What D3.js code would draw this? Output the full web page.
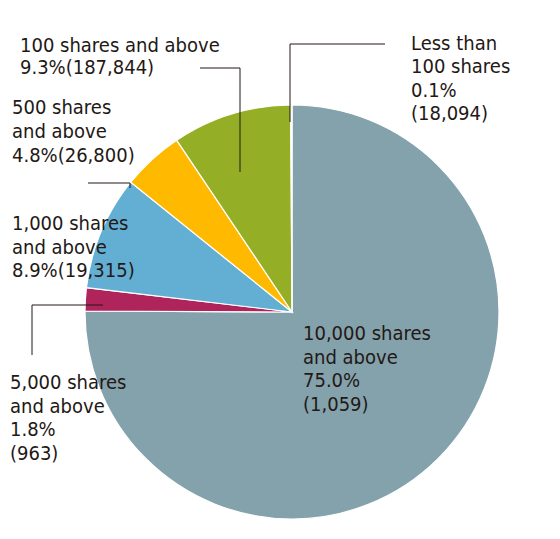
<!DOCTYPE html>
<html><head><meta charset="utf-8">
<script src="https://cdn.jsdelivr.net/npm/d3@7"></script>
<style>body{margin:0;background:#fff}text{font-family:"DejaVu Sans Condensed","DejaVu Sans",sans-serif;font-size:20px;fill:#231815}</style>
</head><body><svg id="c" width="560" height="539"></svg>
<script>
const categories=["10,000 shares and above","5,000 shares and above","1,000 shares and above","500 shares and above","100 shares and above","Less than 100 shares"];
const percents=[75.0,1.8,8.9,4.8,9.3,0.1];
const counts=["1,059","963","19,315","26,800","187,844","18,094"];
const colors=["#84a2ac","#b0245c","#63afd3","#ffba00","#94ae26","#f0b47e"];
const labelLines=[
 ["10,000 shares","and above","75.0%","(1,059)"],
 ["5,000 shares","and above","1.8%","(963)"],
 ["1,000 shares","and above","8.9%(19,315)"],
 ["500 shares","and above","4.8%(26,800)"],
 ["100 shares and above","9.3%(187,844)"],
 ["Less than","100 shares","0.1%","(18,094)"]];
const svg=d3.select("#c");
const cx=292,cy=312,r=207;
const pie=d3.pie().sort(null).value(d=>d)(percents);
const arc=d3.arc().innerRadius(0).outerRadius(r);
const g=svg.append("g").attr("transform",`translate(${cx},${cy})`);
g.selectAll("path").data(pie).join("path").attr("d",arc).attr("fill",(d,i)=>colors[i]).attr("stroke","#fff").attr("stroke-width",1.2);
const pos=[[303,340],[10,389],[12,230],[12,114],[20,52],[411,50]];
const lh=[23.7,23.7,23.5,24,22,23.3];
labelLines.forEach((ls,i)=>{
 const t=svg.append("text").attr("x",pos[i][0]).attr("y",pos[i][1]);
 ls.forEach((s,j)=>t.append("tspan").attr("x",pos[i][0]).attr("y",pos[i][1]+j*lh[i]).text(s));
});
const leaders=[
 [[32,355],[32,305],[103,305]],
 [[88,183],[130,183],[130,188]],
 [[200,68],[240,68],[240,172]],
 [[385,44],[290,44],[290,122]]];
leaders.forEach(p=>svg.append("path").attr("d",d3.line()(p)).attr("fill","none").attr("stroke","#231815").attr("stroke-width",1));
</script></body></html>
